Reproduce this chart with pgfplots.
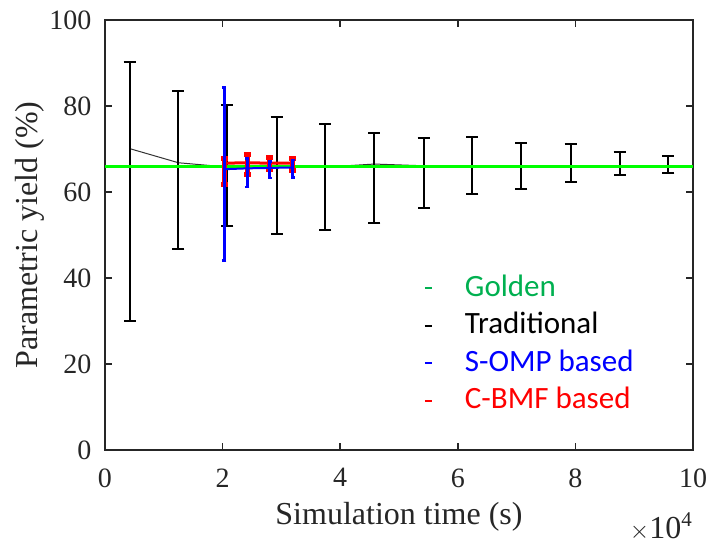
\documentclass[border=0pt]{standalone}
\usepackage{fontspec}
\setmainfont{Liberation Serif}
\newfontfamily\legfont{Carlito}
\usepackage{pgfplots}
\usepackage{pgfplotstable}
\pgfplotsset{compat=1.18}
\definecolor{goldtxt}{RGB}{0,176,80}
\definecolor{goldline}{RGB}{0,255,0}

% x in units of 1e4 s
\pgfplotstableread{
x     mean ep   em
0.417 70.1 20.1 40.1
1.250 66.8 16.7 20.1
2.083 65.8 14.5 13.6
2.917 65.7 11.8 15.4
3.750 65.8 10.1 14.6
4.583 66.5 7.3  13.7
5.417 66.1 6.5  9.8
6.250 66.0 6.9  6.4
7.083 66.0 5.4  5.2
7.917 66.0 5.2  3.6
8.750 66.0 3.3  2.0
9.583 66.0 2.4  1.5
}\trad

\pgfplotstableread{
x    mean ep   em
2.03 65.3 19.0 21.2
2.42 65.5 2.3  4.3
2.80 65.6 1.5  2.3
3.19 65.7 1.7  2.3
}\somp

\pgfplotstableread{
x    mean ep  em
2.03 66.7 1.0 4.9
2.42 66.8 2.0 2.7
2.80 66.7 1.4 1.5
3.19 66.7 1.1 1.7
}\cbmf

\begin{document}
\begin{tikzpicture}
\begin{axis}[
  name=ax,
  scale only axis,
  width=588pt, height=430pt,
  xmin=0, xmax=10, ymin=0, ymax=100,
  xtick={0,2,...,10}, ytick={0,20,...,100},
  xticklabel={\pgfmathprintnumber[assume math mode=true]{\tick}},
  yticklabel={\pgfmathprintnumber[assume math mode=true]{\tick}},
  tick align=inside,
  major tick length=7pt,
  axis line style={black!85, line width=1.5pt},
  tick style={black!85, line width=1.5pt},
  font=\fontsize{28}{34}\selectfont,
  xticklabel style={yshift=-15pt},
  yticklabel style={xshift=-10pt},
  xlabel={Simulation time (s)},
  ylabel={Parametric yield (\%)},
  label style={font=\fontsize{32}{38}\selectfont, black!85},
  ticklabel style={black!85},
  xlabel style={yshift=-8pt},
  ylabel style={yshift=-2pt},
  clip=false,
  legend image code/.code={
    \path[draw=none, fill=none] (0pt,0pt) -- (38pt,0pt);
    \draw[#1] (0pt,0pt) -- (7pt,0pt);},
  legend cell align=left,
  legend style={draw=none, fill=none,
    at={(rel axis cs:0.537,0.418)}, anchor=north west,
    font=\legfont\fontsize{31}{36}\selectfont,
    row sep=5.5pt,
    nodes={text height=22pt, text depth=6pt}},
]
\addlegendimage{goldtxt, line width=2pt}
\addlegendentry{\textcolor{goldtxt}{Golden}}
\addlegendimage{black, line width=2pt}
\addlegendentry{Traditional}
\addlegendimage{blue, line width=2pt}
\addlegendentry{\textcolor{blue}{S-OMP based}}
\addlegendimage{red, line width=2pt}
\addlegendentry{\textcolor{red}{C-BMF based}}

\addplot[black!80, line width=1pt, mark=none, forget plot,
  error bars/.cd, y dir=both, y explicit,
  error bar style={black, line width=2pt},
  error mark options={rotate=90, mark size=6pt, black, line width=2pt}]
  table[x=x, y=mean, y error plus=ep, y error minus=em] {\trad};

\addplot[goldline, line width=3pt, mark=none, forget plot]
  coordinates {(0,66.0) (10,66.0)};

\addplot[red, line width=3pt, mark=none, forget plot,
  error bars/.cd, y dir=both, y explicit,
  error bar style={red, line width=5pt},
  error mark options={rotate=90, mark size=3.5pt, red, line width=5pt}]
  table[x=x, y=mean, y error plus=ep, y error minus=em] {\cbmf};

\addplot[blue, line width=2pt, mark=none, forget plot,
  error bars/.cd, y dir=both, y explicit,
  error bar style={blue, line width=2.5pt},
  error mark options={rotate=90, mark size=2pt, blue, line width=2.5pt}]
  table[x=x, y=mean, y error plus=ep, y error minus=em] {\somp};

\node[anchor=base east, black!85, inner sep=0pt, font=\fontsize{32}{38}\selectfont]
  at ([xshift=-1pt,yshift=-88pt]rel axis cs:1,0)
  {$\times$10\raisebox{12pt}{\fontsize{21}{25}\selectfont 4}};
\end{axis}
\path ([xshift=-105pt,yshift=-94pt]ax.south west) rectangle ([xshift=20pt,yshift=20pt]ax.north east);
\end{tikzpicture}
\end{document}
